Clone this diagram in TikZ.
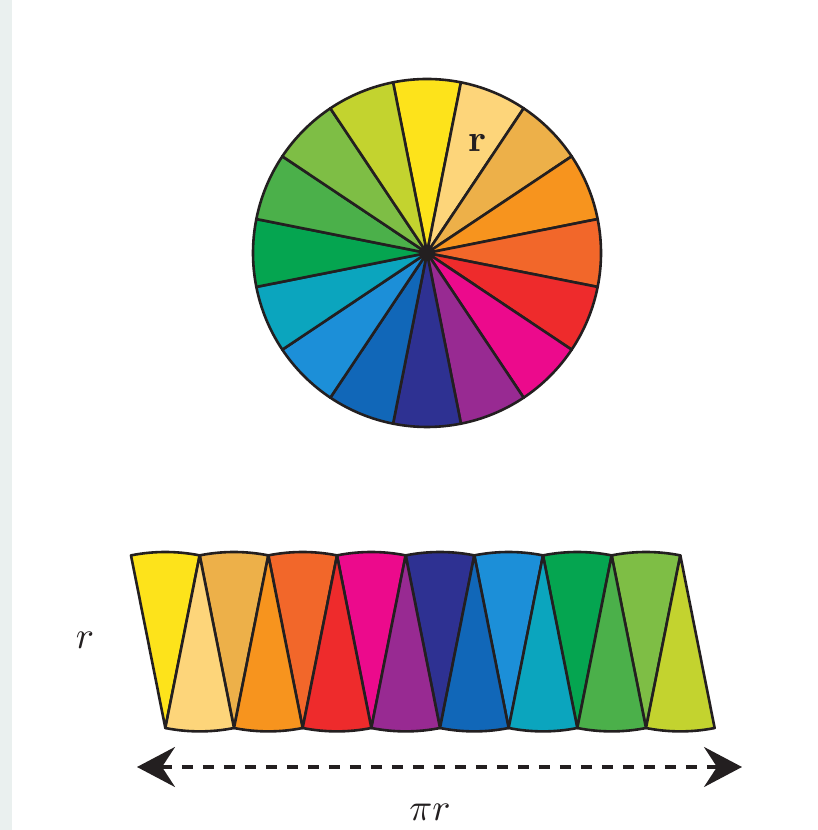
\documentclass[tikz,border=0pt]{standalone}
\usepackage{tikz}
\usetikzlibrary{calc, arrows.meta}
\usepackage{xcolor}

\definecolor{sideGray}{HTML}{EAF0EF}
\definecolor{edgeDark}{HTML}{231F20}
\definecolor{pieYellow}{HTML}{FDE31B}
\definecolor{piePale}{HTML}{FDD57A}
\definecolor{pieTan}{HTML}{EDB049}
\definecolor{pieOrange}{HTML}{F7941E}
\definecolor{pieOrRed}{HTML}{F2672A}
\definecolor{pieRed}{HTML}{EE2B2C}
\definecolor{pieMagenta}{HTML}{EC0A8C}
\definecolor{piePurple}{HTML}{982A92}
\definecolor{pieIndigo}{HTML}{2E3192}
\definecolor{pieDkBlue}{HTML}{1167B8}
\definecolor{pieBlue}{HTML}{1C8FD8}
\definecolor{pieTeal}{HTML}{0BA5BE}
\definecolor{pieDkGreen}{HTML}{05A550}
\definecolor{pieGreen}{HTML}{4BB04A}
\definecolor{pieLtGreen}{HTML}{7EBE45}
\definecolor{pieYGreen}{HTML}{C3D32F}

\begin{document}
\begin{tikzpicture}[x=1pt, y=1pt,
    piece/.style={draw=edgeDark, line width=2.6pt, line join=round},
    span/.style={{Stealth[length=38pt, width=40pt, inset=13pt]}-{Stealth[length=38pt, width=40pt, inset=13pt]},
        draw=edgeDark, line width=3.2pt, dash pattern=on 11pt off 10pt},
    lbl/.style={scale=3.8, inner sep=0pt, text=edgeDark}]
    \useasboundingbox (0,0) rectangle (817,830);
    \fill[sideGray] (0,0) rectangle (12,830);
    \pgfmathsetmacro{\rad}{174}
    \pgfmathsetmacro{\rs}{176}
    \pgfmathsetmacro{\bw}{2*\rs*sin(11.25)}
    \coordinate (O) at (427,577);
    \foreach \col [count=\i from 0, evaluate=\i as \a using 101.25-22.5*\i] in
        {pieYellow, piePale, pieTan, pieOrange, pieOrRed, pieRed, pieMagenta, piePurple,
         pieIndigo, pieDkBlue, pieBlue, pieTeal, pieDkGreen, pieGreen, pieLtGreen, pieYGreen}
        \filldraw[piece, fill=\col] (O) -- ($(O)+(\a:\rad pt)$)
            arc[start angle=\a, delta angle=-22.5, radius=\rad pt] -- cycle;
    \fill[edgeDark] (O) circle[radius=7.5pt];
    \foreach \col [count=\k from 0, evaluate=\k as \xa using 131+\bw*(\k+0.5)] in
        {pieYellow, pieTan, pieOrRed, pieMagenta, pieIndigo, pieBlue, pieDkGreen, pieLtGreen}
        \filldraw[piece, fill=\col] (\xa,102) -- ++(101.25:\rs pt)
            arc[start angle=101.25, end angle=78.75, radius=\rs pt] -- cycle;
    \foreach \col [count=\k from 0, evaluate=\k as \xb using 131+\bw*(\k+1)] in
        {piePale, pieOrange, pieRed, piePurple, pieDkBlue, pieTeal, pieGreen, pieYGreen}
        \filldraw[piece, fill=\col] (\xb,274.6) -- ++(-101.25:\rs pt)
            arc[start angle=-101.25, end angle=-78.75, radius=\rs pt] -- cycle;
    \coordinate (ArrL) at (137,63);
    \coordinate (ArrR) at (742,63);
    \draw[span] (ArrL) -- (ArrR);
    \node[lbl] (rTop) at (478,687) {\bfseries r};
    \node[lbl] (rSide) at (85,190) {$r$};
    \node[lbl] (piR) at (430,18) {$\pi r$};
\end{tikzpicture}
\end{document}
